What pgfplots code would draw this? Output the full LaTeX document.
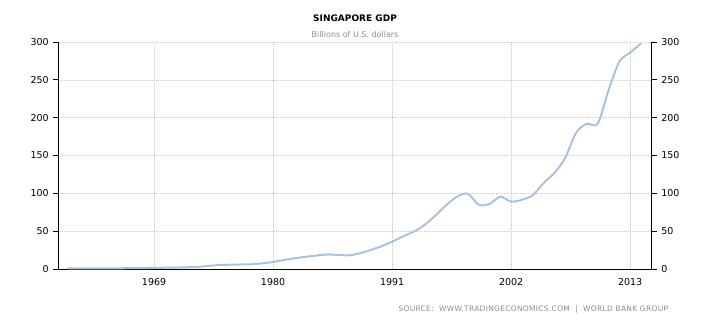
\documentclass[border=0pt]{standalone}
\usepackage{pgfplots}
\pgfplotsset{compat=1.18}
\usepackage{fontspec}
\setmainfont{DejaVu Sans}
\definecolor{linec}{RGB}{172,193,222}
\definecolor{gridc}{RGB}{200,200,200}
\definecolor{subc}{RGB}{140,140,140}
\pgfplotstableread{
x y
1961 0.70
1962 0.76
1963 0.82
1964 0.92
1965 0.89
1966 0.97
1967 1.09
1968 1.24
1969 1.43
1970 1.66
1971 1.92
1972 2.26
1973 2.72
1974 4.07
1975 5.22
1976 5.63
1977 6.00
1978 6.30
1979 7.50
1980 9.30
1981 11.9
1982 14.2
1983 16.1
1984 17.8
1985 19.2
1986 18.6
1987 18.1
1988 20.7
1989 25.0
1990 30.0
1991 36.1
1992 43.0
1993 49.4
1994 58.2
1995 70.7
1996 84.3
1997 95.5
1998 99.5
1999 85.0
2000 86.0
2001 95.6
2002 89.0
2003 91.5
2004 97.5
2005 113.6
2006 127.0
2007 147.0
2008 180.0
2009 192.0
2010 192.0
2011 236.0
2012 274.0
2013 286.0
2014 298.0
}\gdpdata
\pgfplotsset{
  common/.style={
    scale only axis, width=593.5pt, height=227pt,
    xmin=1960.15, xmax=2015, ymin=0, ymax=300,
    ytick={0,50,...,300},
    tick align=outside, major tick length=5pt,
    /pgf/number format/assume math mode=true,
    ticklabel style={font=\fontsize{9.5}{10}\selectfont, text=black},
    tick style={black, line width=0.8pt},
    x axis line style={-}, y axis line style={-},
    axis line style={black, line width=1pt},
  }
}
\begin{document}
\begin{tikzpicture}
\begin{axis}[common,
  axis x line*=bottom, axis y line*=left,
  xtick={1969,1980,1991,2002,2013},
  xticklabels={1969,1980,1991,2002,2013},
  major x tick style={draw=none},
  xticklabel style={yshift=-1pt},
  yticklabel style={xshift=-1pt},
  grid=major,
  major grid style={gridc, dash pattern=on 1pt off 1pt, line width=0.6pt},
  clip=false,
]
\addplot[linec, line width=2pt, smooth, tension=0.5] table[x=x,y=y]{\gdpdata};
\coordinate (O) at (rel axis cs:0,0);
\coordinate (SE) at (rel axis cs:1,0);
\coordinate (N) at (rel axis cs:0.5,1);
\end{axis}
\begin{axis}[common,
  axis x line=none, axis y line*=right,
  yticklabel pos=right,
  yticklabel style={xshift=1pt},
]
\end{axis}
\node[font=\bfseries\fontsize{9}{10}\selectfont] at ([yshift=23.5pt]N) {SINGAPORE GDP};
\node[font=\fontsize{8}{9}\selectfont, text=subc] at ([yshift=7.5pt]N) {Billions of U.S. dollars};
\node[font=\fontsize{7.5}{8}\selectfont\addfontfeatures{LetterSpace=4}, text=subc, anchor=east, inner sep=0pt] at ([xshift=16.5pt,yshift=-41pt]SE) {SOURCE:\ \ WWW.TRADINGECONOMICS.COM\ \ |\ \ WORLD\ BANK\ GROUP};
\pgfresetboundingbox
\path ([xshift=-58.3pt,yshift=-56pt]O) rectangle ++(710pt,325pt);
\end{tikzpicture}
\end{document}
